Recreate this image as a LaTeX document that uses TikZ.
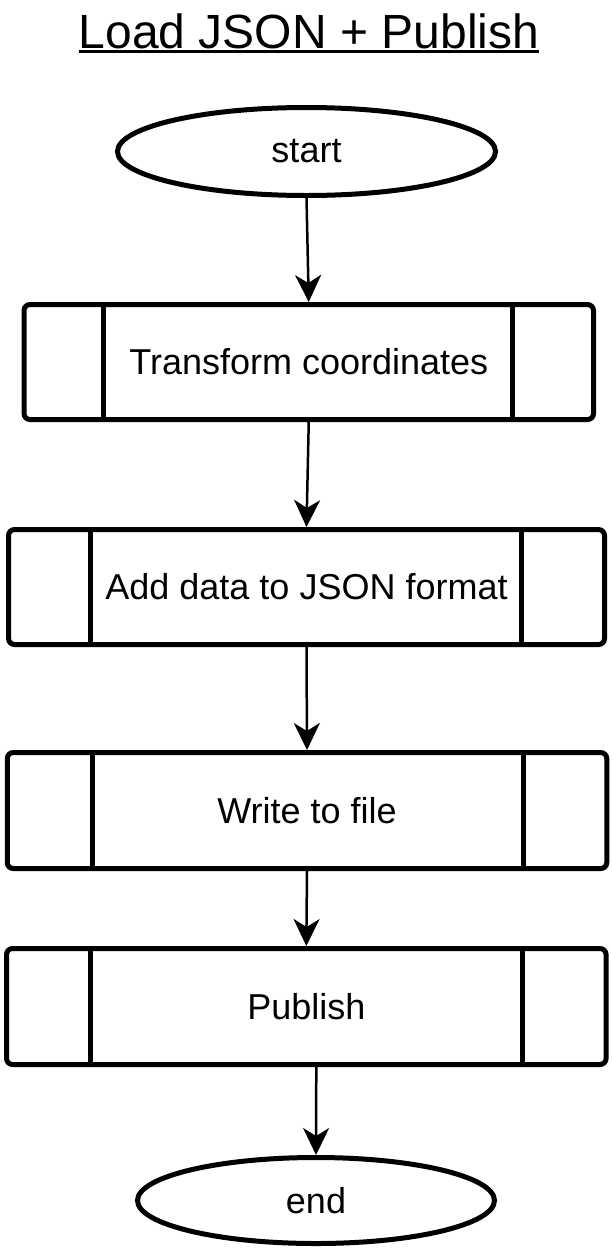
\documentclass[tikz,border=0pt]{standalone}
\usepackage{fontspec}
\setmainfont{Liberation Sans}
\usetikzlibrary{arrows.meta,shapes.geometric}
\begin{document}
\begin{tikzpicture}[x=1pt,y=-1pt,
  every node/.style={font=\fontsize{36}{43}\selectfont},
  proc/.style={draw, line width=5pt, rounded corners=6pt, inner sep=0pt,
               minimum height=115pt},
  term/.style={draw, ellipse, line width=5pt, inner sep=0pt},
  flow/.style={line width=2.5pt, -{Stealth[length=27pt,width=26pt,inset=8pt]}},
  bar/.style={line width=5pt}]
\useasboundingbox (0,0) rectangle (612,1251);

% heading
\node[inner sep=0pt, anchor=base, font=\fontsize{48}{58}\selectfont] (title) at (309,48) {Load JSON + Publish};
\draw[line width=3pt] ([yshift=-3.5pt]title.base west) -- ([yshift=-3.5pt]title.base east);

% terminals
\node[term, minimum width=378pt, minimum height=88pt] (start) at (306.5,151.5) {start};
\node[term, minimum width=357pt, minimum height=86pt] (en) at (316,1200.5) {end};

% predefined-process steps
\node[proc, minimum width=569.5pt] (b1) at (308.75,362) {Transform coordinates};
\node[proc, minimum width=596pt] (b2) at (306.5,587) {Add data to JSON format};
\node[proc, minimum width=599.5pt, minimum height=116pt] (b3) at (307,810.5) {Write to file};
\node[proc, minimum width=599.5pt, minimum height=116pt] (b4) at (306.3,1006.5) {Publish};

% side bars of the step boxes
\draw[bar] ([xshift=-205.25pt]b1.north) -- ([xshift=-205.25pt]b1.south);
\draw[bar] ([xshift=203.25pt]b1.north) -- ([xshift=203.25pt]b1.south);
\draw[bar] ([xshift=-215.9pt]b2.north) -- ([xshift=-215.9pt]b2.south);
\draw[bar] ([xshift=215pt]b2.north) -- ([xshift=215pt]b2.south);
\draw[bar] ([xshift=-214.4pt]b3.north) -- ([xshift=-214.4pt]b3.south);
\draw[bar] ([xshift=216pt]b3.north) -- ([xshift=216pt]b3.south);
\draw[bar] ([xshift=-215.7pt]b4.north) -- ([xshift=-215.7pt]b4.south);
\draw[bar] ([xshift=215.7pt]b4.north) -- ([xshift=215.7pt]b4.south);

% flow
\draw[flow] (start.south) -- (b1.north);
\draw[flow] (b1.south) -- (b2.north);
\draw[flow] (b2.south) -- (b3.north);
\draw[flow] (b3.south) -- (b4.north);
\draw[flow] ([xshift=10pt]b4.south) -- (en.north);
\end{tikzpicture}
\end{document}
